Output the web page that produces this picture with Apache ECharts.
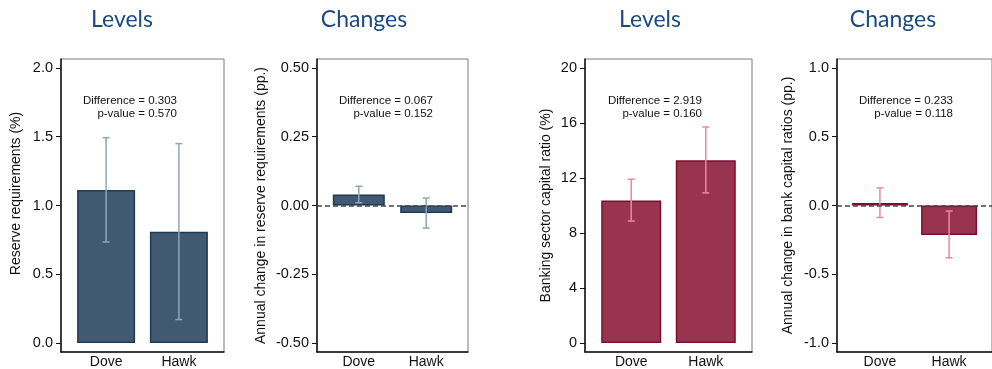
<!DOCTYPE html>
<html>
<head>
<meta charset="utf-8">
<script src="https://cdn.jsdelivr.net/npm/echarts@6/dist/echarts.min.js"></script>
<style>
  html, body { margin: 0; padding: 0; background: #fff; }
  #chart { width: 992px; height: 369px; }
</style>
</head>
<body>
<div id="chart"></div>
<script>
// Group labels and positions on the x axis
const categories = ['Dove', 'Hawk'];
const categoryPos = [1, 2];

// Reserve requirements
const reserveLevel = [1.112, 0.809];
const reserveLevelCI = [[0.735, 1.493], [0.171, 1.450]];
const reserveChange = [0.040, -0.027];
const reserveChangeCI = [[0.010, 0.070], [-0.082, 0.027]];

// Banking sector capital ratio
const capitalLevel = [10.37, 13.29];
const capitalLevelCI = [[8.87, 11.91], [10.92, 15.71]];
const capitalChange = [0.019, -0.214];
const capitalChangeCI = [[-0.087, 0.128], [-0.380, -0.040]];

// Test statistics
const differences = ['0.303', '0.067', '2.919', '0.233'];
const pValues = ['0.570', '0.152', '0.160', '0.118'];

// Y tick values
const ticksReserveLevel = [0, 0.5, 1.0, 1.5, 2.0];
const ticksReserveChange = [-0.5, -0.25, 0, 0.25, 0.5];
const ticksCapitalLevel = [0, 4, 8, 12, 16, 20];
const ticksCapitalChange = [-1.0, -0.5, 0, 0.5, 1.0];

const panelTitles = ['Levels', 'Changes', 'Levels', 'Changes'];
const axisTitles = [
  'Reserve requirements (%)',
  'Annual change in reserve requirements (pp.)',
  'Banking sector capital ratio (%)',
  'Annual change in bank capital ratios (pp.)'
];

const NAVY = { fill: '#415a72', edge: '#1f3a55', err: '#8ea5bd' };
const WINE = { fill: '#98344f', edge: '#7c0e30', err: '#e78aa1' };
const FONT = '"Liberation Sans", Arial, sans-serif';

const panels = [
  { grid: { left: 61, width: 163 }, values: reserveLevel, ci: reserveLevelCI, ticks: ticksReserveLevel,
    range: [-0.065, 2.065], digits: 1, color: NAVY, barWidth: 58, zero: false,
    titleX: 117, noteX: 177, nameGap: 38, namePad: [0, 0, 0, 24] },
  { grid: { left: 317, width: 151 }, values: reserveChange, ci: reserveChangeCI, ticks: ticksReserveChange,
    range: [-0.5325, 0.5325], digits: 2, color: NAVY, barWidth: 52, zero: true,
    titleX: 359, noteX: 433, nameGap: 49, namePad: [0, 0, 0, 0] },
  { grid: { left: 585, width: 167 }, values: capitalLevel, ci: capitalLevelCI, ticks: ticksCapitalLevel,
    range: [-0.65, 20.65], digits: 0, color: WINE, barWidth: 60, zero: false,
    titleX: 645, noteX: 702, nameGap: 32, namePad: [0, 0, 0, 0] },
  { grid: { left: 837, width: 159 }, values: capitalChange, ci: capitalChangeCI, ticks: ticksCapitalChange,
    range: [-1.065, 1.065], digits: 1, color: WINE, barWidth: 56, zero: true,
    titleX: 888, noteX: 953, nameGap: 42, namePad: [0, 0, 0, 0] }
];

const grids = [], xAxes = [], yAxes = [], series = [], titles = [], graphics = [];

panels.forEach((p, i) => {
  grids.push({
    left: p.grid.left, width: p.grid.width, top: 59, height: 295,
    show: true, borderColor: '#7a7a7a', borderWidth: 1, backgroundColor: '#fff'
  });

  xAxes.push({
    gridIndex: i, type: 'value', min: 0.38, max: 2.62,
    axisLine: { show: true, onZero: false, lineStyle: { color: '#111', width: 1.5 } },
    axisTick: { show: false },
    splitLine: { show: false },
    axisLabel: {
      customValues: categoryPos,
      formatter: v => categories[Math.round(v) - 1] || '',
      color: '#111', fontFamily: FONT, fontSize: 14, margin: 3
    }
  });

  yAxes.push({
    gridIndex: i, type: 'value', min: p.range[0], max: p.range[1],
    name: axisTitles[i], nameLocation: 'middle', nameGap: p.nameGap,
    nameTextStyle: { color: '#111', fontFamily: FONT, fontSize: 14, padding: p.namePad },
    axisLine: { show: true, onZero: false, lineStyle: { color: '#111', width: 1.5 } },
    axisTick: { show: true, customValues: p.ticks, length: 5, lineStyle: { color: '#111', width: 1 } },
    splitLine: { show: false },
    axisLabel: {
      customValues: p.ticks,
      formatter: v => Number(v).toFixed(p.digits),
      color: '#111', fontFamily: FONT, fontSize: 14.5, margin: 8
    }
  });

  const bar = {
    type: 'bar', xAxisIndex: i, yAxisIndex: i,
    barWidth: p.barWidth,
    data: p.values.map((v, k) => [categoryPos[k], v]),
    itemStyle: { color: p.color.fill, borderColor: p.color.edge, borderWidth: 1.5 },
    silent: true, animation: false, z: 2
  };
  if (p.zero) {
    bar.markLine = {
      silent: true, symbol: 'none', animation: false,
      label: { show: false },
      lineStyle: { type: [5, 3], color: '#444', width: 1.5 },
      data: [{ yAxis: 0 }]
    };
  }
  series.push(bar);

  series.push({
    type: 'custom', xAxisIndex: i, yAxisIndex: i, z: 3, silent: true, animation: false,
    data: p.ci.map((c, k) => [categoryPos[k], c[0], c[1]]),
    renderItem: (params, api) => {
      const lo = api.coord([api.value(0), api.value(1)]);
      const hi = api.coord([api.value(0), api.value(2)]);
      const cap = 3.5;
      const st = { stroke: p.color.err, lineWidth: 1.5 };
      return {
        type: 'group',
        children: [
          { type: 'line', shape: { x1: lo[0], y1: lo[1], x2: hi[0], y2: hi[1] }, style: st },
          { type: 'line', shape: { x1: lo[0] - cap, y1: lo[1], x2: lo[0] + cap, y2: lo[1] }, style: st },
          { type: 'line', shape: { x1: hi[0] - cap, y1: hi[1], x2: hi[0] + cap, y2: hi[1] }, style: st }
        ]
      };
    }
  });

  titles.push({
    text: panelTitles[i], left: p.titleX, top: 3, textAlign: 'center',
    textStyle: { color: '#1c4a7e', fontFamily: 'Lato, sans-serif', fontSize: 23, fontWeight: 'normal' }
  });

  graphics.push({
    type: 'text', x: p.noteX, y: 95, z: 10,
    style: {
      text: 'Difference = ' + differences[i] + '\np-value = ' + pValues[i],
      fill: '#111', font: '11.5px ' + FONT, lineHeight: 12.5, align: 'right', verticalAlign: 'top'
    }
  });
});

const chart = echarts.init(document.getElementById('chart'), null, { renderer: 'canvas' });
chart.setOption({
  animation: false,
  backgroundColor: '#fff',
  title: titles,
  grid: grids,
  xAxis: xAxes,
  yAxis: yAxes,
  series: series,
  graphic: graphics
});
</script>
</body>
</html>
